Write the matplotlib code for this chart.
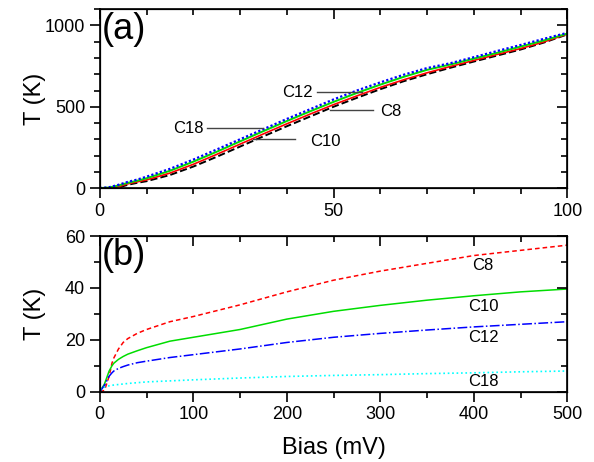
import numpy as np
import matplotlib
matplotlib.use('Agg')
import matplotlib.pyplot as plt
from matplotlib.ticker import MultipleLocator, NullFormatter

plt.rcParams['font.family'] = ['Liberation Sans', 'DejaVu Sans']
plt.rcParams.update({
    'xtick.major.size': 7, 'xtick.minor.size': 4,
    'ytick.major.size': 7, 'ytick.minor.size': 4,
    'xtick.major.width': 1.2, 'xtick.minor.width': 1.2,
    'ytick.major.width': 1.2, 'ytick.minor.width': 1.2,
    'xtick.color': 'black', 'ytick.color': 'black',
})

# panel (a) data, bias 0-100 mV
xa = [0, 2, 4, 6, 8, 10, 15, 20, 25, 30, 35, 40, 45, 50, 55, 60, 65, 70, 75, 80, 85, 90, 95, 100]
ta_black = [0, 0, 3, 20, 32, 42, 80, 132, 192, 255, 318, 380, 440, 500, 555, 608, 657, 700, 740, 778, 815, 852, 895, 945]
ta_red = [0, 0, 8, 26, 38, 50, 92, 146, 207, 270, 333, 395, 455, 513, 567, 619, 666, 709, 748, 785, 822, 858, 899, 947]
ta_green = [0, 3, 16, 32, 45, 60, 106, 162, 223, 287, 350, 412, 472, 530, 585, 636, 684, 727, 760, 796, 832, 870, 908, 950]
ta_blue = [0, 5, 20, 38, 52, 70, 118, 175, 237, 300, 362, 425, 485, 545, 600, 650, 697, 738, 768, 805, 843, 880, 918, 955]

# panel (b) data, bias 0-500 mV
xb = [0, 5, 10, 13, 15, 20, 25, 30, 40, 50, 75, 100, 150, 200, 250, 300, 350, 400, 450, 500]
tb_c8 = [0, 0.5, 6, 11, 13, 16.5, 19, 20.5, 22.5, 24, 27, 29, 33.5, 38.5, 43, 46.5, 49.5, 52.5, 54.5, 56.5]
tb_c10 = [0, 3, 8, 10, 11, 12.5, 13.6, 14.5, 15.8, 17, 19.5, 21, 24, 28, 31, 33.3, 35.3, 37, 38.5, 39.6]
tb_c12 = [0, 2.5, 6, 7.3, 8, 9, 9.7, 10.3, 11.2, 11.8, 13.2, 14.3, 16.5, 19, 21, 22.5, 23.8, 25, 26, 27]
tb_c18 = [1, 1.8, 2.3, 2.5, 2.6, 2.8, 3.0, 3.2, 3.5, 3.8, 4.2, 4.6, 5.3, 5.9, 6.3, 6.6, 7.0, 7.3, 7.7, 8]

fig = plt.figure(figsize=(5.94, 4.62), dpi=100)
ax1 = fig.add_axes([0.168, 0.593, 0.787, 0.387])
ax2 = fig.add_axes([0.168, 0.152, 0.787, 0.337])

ax1.plot(xa, ta_black, color='black', ls='--', lw=1.4)
ax1.plot(xa, ta_red, color='red', ls='-', lw=1.2)
ax1.plot(xa, ta_green, color='#00dd00', ls='-', lw=1.4)
ax1.plot(xa, ta_blue, color='blue', ls=(0, (1, 1)), lw=1.6)
ax1.set_xlim(0, 100)
ax1.set_ylim(0, 1100)
ax1.set_ylabel('T (K)', fontsize=17)
ax1.text(0.005, 0.985, '(a)', transform=ax1.transAxes, fontsize=26, va='top', ha='left')

# labels with pointer lines
ax1.plot([46.5, 56.1], [589, 589], color='#444444', lw=1)
ax1.text(45.5, 589, 'C12', fontsize=12, ha='right', va='center')
ax1.plot([49.3, 58.5], [478, 478], color='#444444', lw=1)
ax1.text(60, 470, 'C8', fontsize=12, ha='left', va='center')
ax1.plot([22.9, 34.9], [368, 368], color='#444444', lw=1)
ax1.text(22.2, 368, 'C18', fontsize=12, ha='right', va='center')
ax1.plot([32.8, 41.8], [300, 300], color='#444444', lw=1)
ax1.text(45, 285, 'C10', fontsize=12, ha='left', va='center')

ax2.plot(xb, tb_c8, color='red', ls=(0, (3, 2)), lw=1.1)
ax2.plot(xb, tb_c10, color='#00dd00', ls='-', lw=1.1)
ax2.plot(xb, tb_c12, color='blue', ls='-.', lw=1.1)
ax2.plot(xb, tb_c18, color='cyan', ls=':', lw=1.2)
ax2.set_xlim(0, 500)
ax2.set_ylim(0, 60)
ax2.set_ylabel('T (K)', fontsize=17)
ax2.set_xlabel('Bias (mV)', fontsize=17, labelpad=10)
ax2.text(0.005, 0.985, '(b)', transform=ax2.transAxes, fontsize=26, va='top', ha='left')
ax2.text(410, 48.8, 'C8', fontsize=12, ha='center', va='center')
ax2.text(410, 32.7, 'C10', fontsize=12, ha='center', va='center')
ax2.text(410, 20.8, 'C12', fontsize=12, ha='center', va='center')
ax2.text(410, 3.8, 'C18', fontsize=12, ha='center', va='center')

# (major, minor) tick steps per axis
steps = [(ax1, (50, 10), (500, 100)), (ax2, (100, 50), (20, 10))]

for ax, (xmaj, xmin), (ymaj, ymin) in steps:
    for s in ax.spines.values():
        s.set_linewidth(1.2)
    # outward ticks on bottom and left
    ax.xaxis.set_major_locator(MultipleLocator(xmaj))
    ax.xaxis.set_minor_locator(MultipleLocator(xmin))
    ax.yaxis.set_major_locator(MultipleLocator(ymaj))
    ax.yaxis.set_minor_locator(MultipleLocator(ymin))
    ax.tick_params(which='both', direction='out', labelsize=13,
                   top=False, right=False, bottom=True, left=True)
    # inward ticks on top and right via twin axes
    tx = ax.twiny()
    tx.set_xlim(ax.get_xlim())
    tx.xaxis.set_major_locator(MultipleLocator(xmaj))
    tx.xaxis.set_minor_locator(MultipleLocator(xmin))
    tx.xaxis.set_major_formatter(NullFormatter())
    tx.tick_params(which='both', direction='in', top=True, bottom=False)
    ty = ax.twinx()
    ty.set_ylim(ax.get_ylim())
    ty.yaxis.set_major_locator(MultipleLocator(ymaj))
    ty.yaxis.set_minor_locator(MultipleLocator(ymin))
    ty.yaxis.set_major_formatter(NullFormatter())
    ty.tick_params(which='both', direction='in', right=True, left=False)

ax1.yaxis.set_label_coords(-0.115, 0.5)
ax2.yaxis.set_label_coords(-0.115, 0.5)

fig.savefig('out.png', dpi=100)
